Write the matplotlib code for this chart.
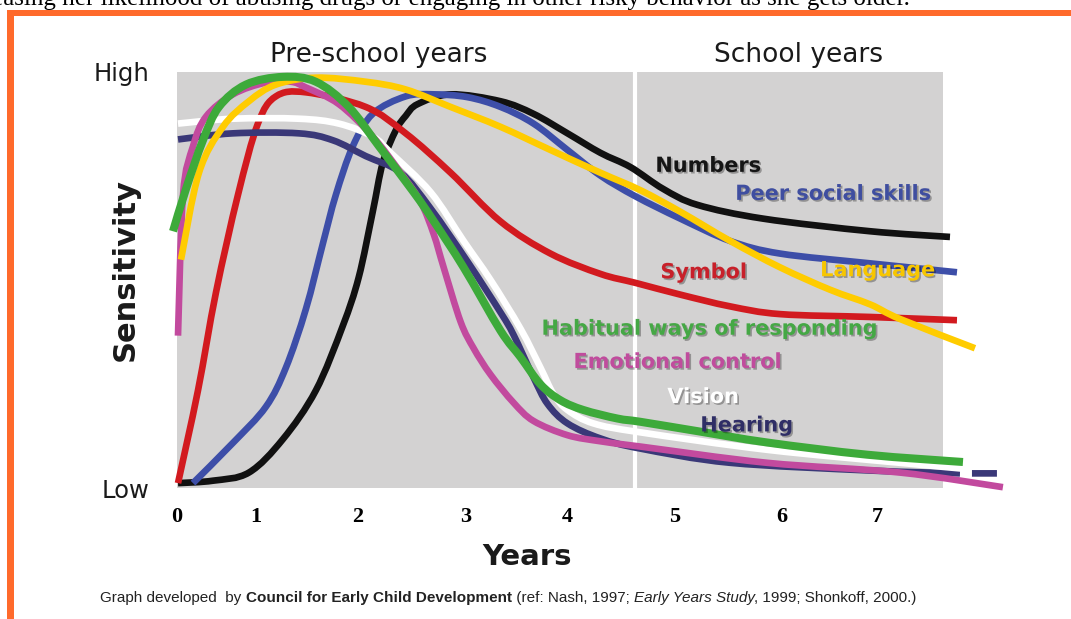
import matplotlib
matplotlib.use("Agg")
import matplotlib.pyplot as plt
import matplotlib.patches as patches
import matplotlib.patheffects as pe
from matplotlib.path import Path

# sensitivity curves: age in years vs sensitivity (0 = low, 100 = high)
numbers_x = [0, 0.35, 0.71, 1.05, 1.38, 1.65, 1.81, 1.95, 2.05, 2.18, 2.28, 2.4, 2.73, 3.23, 3.56, 3.9, 4.23, 4.53, 4.86, 5.2, 5.86, 6.93, 7.73]
numbers_y = [0, 0.6, 2.6, 10.8, 22.8, 38.7, 50.7, 66.8, 78.8, 86.8, 90.4, 93.3, 95.7, 94.0, 90.9, 86.1, 81.3, 77.8, 72.4, 68.5, 65.1, 62.0, 60.6]

peer_x = [0.15, 0.55, 0.88, 1.08, 1.28, 1.45, 1.58, 1.75, 1.95, 2.28, 2.56, 2.9, 3.23, 3.56, 3.9, 4.23, 4.58, 5.03, 5.53, 6.03, 6.93, 7.8]
peer_y = [0, 9.9, 18.8, 28.4, 42.8, 58.9, 70.9, 82.9, 90.9, 95.2, 95.7, 95.0, 92.6, 88.5, 82.0, 75.7, 70.6, 65.1, 59.6, 56.5, 54.1, 51.9]

symbol_x = [0, 0.2, 0.38, 0.6, 0.8, 0.98, 1.28, 1.88, 2.28, 2.73, 3.23, 3.73, 4.23, 4.58, 5.03, 5.53, 6.03, 6.93, 7.8]
symbol_y = [0, 22.8, 46.9, 70.9, 88.5, 95.2, 96.2, 92.6, 86.1, 76.4, 64.4, 56.5, 51.5, 49.3, 46.4, 43.5, 41.6, 40.9, 40.1]

language_x = [0.03, 0.21, 0.45, 0.71, 0.98, 1.38, 1.88, 2.28, 2.73, 3.23, 3.73, 4.23, 4.63, 5.03, 5.53, 6.03, 6.53, 6.93, 7.23, 7.98]
language_y = [55.0, 76.4, 87.7, 94.0, 98.1, 99.8, 98.8, 96.9, 92.6, 87.7, 82.0, 76.4, 72.1, 66.8, 59.6, 53.1, 47.6, 44.0, 40.4, 33.2]

habitual_x = [-0.05, 0.08, 0.25, 0.41, 0.68, 1.05, 1.38, 1.71, 2.01, 2.36, 2.56, 2.86, 3.23, 3.43, 3.63, 3.83, 4.06, 4.4, 4.63, 5.2, 5.9, 6.9, 7.86]
habitual_y = [62.0, 72.4, 84.4, 92.6, 98.1, 100, 98.8, 92.6, 83.0, 71.6, 64.5, 53.1, 37.5, 31.0, 24.3, 20.4, 18.0, 15.9, 15.1, 12.8, 10.0, 7.0, 5.2]

emotional_x = [0, 0.05, 0.15, 0.28, 0.55, 0.88, 1.13, 1.28, 1.61, 1.95, 2.23, 2.43, 2.56, 2.66, 2.83, 2.96, 3.13, 3.36, 3.56, 3.9, 4.23, 4.63, 5.9, 7.23, 8.26]
emotional_y = [36.3, 70.9, 82.9, 90.2, 95.7, 98.6, 98.8, 97.4, 93.3, 85.3, 76.4, 69.2, 61.3, 53.1, 39.7, 33.2, 26.7, 19.8, 15.3, 11.8, 10.3, 9.0, 5.0, 2.6, -1.0]

vision_x = [0, 0.55, 1.21, 1.61, 1.95, 2.13, 2.53, 2.86, 3.13, 3.43, 3.63, 3.76, 3.9, 4.16, 4.63, 5.9, 7.23, 7.93]
vision_y = [88.5, 89.7, 89.7, 88.5, 85.3, 81.3, 71.6, 59.6, 50.0, 38.0, 28.4, 21.9, 18.0, 14.7, 12.5, 8.2, 5.0, 3.4]

hearing_x = [0, 0.55, 1.21, 1.55, 1.88, 2.23, 2.53, 2.9, 3.23, 3.36, 3.56, 3.7, 3.9, 4.23, 4.63, 5.53, 6.93, 7.83]
hearing_y = [84.6, 86.1, 86.1, 84.4, 80.5, 76.4, 67.6, 54.5, 42.0, 36.5, 26.0, 19.5, 14.7, 11.0, 8.5, 5.0, 3.1, 2.4]
hearing_tail_x = [7.95, 8.2]
hearing_tail_y = [2.4, 2.4]

year_labels = ["0", "1", "2", "3", "4", "5", "6", "7"]
level_labels = ["Low", "High"]

# label text and anchor (left, centre) in data units
curve_labels = [
    ("Numbers", 4.78, 78.1, "#151515"),
    ("Peer social skills", 5.58, 71.2, "#3f4ea0"),
    ("Symbol", 4.83, 51.9, "#c8202a"),
    ("Language", 6.43, 52.4, "#f7c600"),
    ("Habitual ways of responding", 3.64, 38.0, "#45a845"),
    ("Emotional control", 3.96, 29.8, "#c04c9d"),
    ("Vision", 4.90, 21.2, "#ffffff"),
    ("Hearing", 5.23, 14.2, "#2f2e66"),
]


def smooth_path(xs, ys):
    # Catmull-Rom through the read points, drawn as cubic Bezier segments
    pts = list(zip(xs, ys))
    verts = [pts[0]]
    codes = [Path.MOVETO]
    n = len(pts)
    for i in range(n - 1):
        p0 = pts[max(i - 1, 0)]
        p1 = pts[i]
        p2 = pts[i + 1]
        p3 = pts[min(i + 2, n - 1)]
        c1 = (p1[0] + (p2[0] - p0[0]) / 6, p1[1] + (p2[1] - p0[1]) / 6)
        c2 = (p2[0] - (p3[0] - p1[0]) / 6, p2[1] - (p3[1] - p1[1]) / 6)
        verts += [c1, c2, p2]
        codes += [Path.CURVE4] * 3
    return Path(verts, codes)


def draw_curve(ax, xs, ys, color, lw, z):
    patch = patches.PathPatch(smooth_path(xs, ys), fill=False, edgecolor=color, lw=lw,
                              capstyle="butt", joinstyle="round", clip_on=False, zorder=z)
    ax.add_patch(patch)


W, H = 1071, 619
fig = plt.figure(figsize=(W / 100, H / 100), dpi=100)
fig.patch.set_facecolor("white")

ax = fig.add_axes([177 / W, (H - 488) / H, 766 / W, 416 / H])
ax.set_facecolor("#d3d2d2")
ax.set_xlim(0, 7.66)
ax.set_ylim(0, 100)
for s in ax.spines.values():
    s.set_visible(False)

# divider between pre-school and school years
ax.axvline(4.58, color="white", lw=3, zorder=1)

lw = 4.8
draw_curve(ax, numbers_x, numbers_y, "#111111", lw, 2)
draw_curve(ax, peer_x, peer_y, "#3d4ea8", lw, 3)
draw_curve(ax, symbol_x, symbol_y, "#d21a1f", lw, 4)
draw_curve(ax, hearing_x, hearing_y, "#3a3878", lw, 5)
draw_curve(ax, hearing_tail_x, hearing_tail_y, "#3a3878", lw, 5)
draw_curve(ax, vision_x, vision_y, "white", lw, 6)
draw_curve(ax, emotional_x, emotional_y, "#c24a9e", lw, 7)
draw_curve(ax, language_x, language_y, "#ffcc00", lw, 8)
draw_curve(ax, habitual_x, habitual_y, "#3daa3a", 5.8, 9)

shadow = [pe.SimplePatchShadow(offset=(1.2, -1.2), shadow_rgbFace="black", alpha=0.3), pe.Normal()]
for txt, x, y, c in curve_labels:
    ax.text(x, y, txt, color=c, fontsize=15, fontweight="bold", family="DejaVu Sans",
            ha="left", va="center", zorder=10, path_effects=shadow)

ax.text(2.01, 105.3, "Pre-school years", fontsize=19, ha="center", va="center", color="#1a1a1a")
ax.text(6.21, 105.3, "School years", fontsize=19, ha="center", va="center", color="#1a1a1a")

ax.set_xticks([-0.01, 0.78, 1.8, 2.88, 3.9, 4.97, 6.05, 7.0], year_labels)
ax.set_yticks([-1.2, 101.2], level_labels)
ax.tick_params(axis="x", length=0, pad=14, labelsize=16)
ax.tick_params(axis="y", length=0, pad=20, labelsize=17.5)
for t in ax.get_xticklabels():
    t.set_family("Liberation Serif")
    t.set_fontweight("bold")
for t in ax.get_yticklabels():
    t.set_color("#1a1a1a")

fig.text(125 / W, 1 - 270 / H, "Sensitivity", rotation=90, fontsize=22, fontweight="bold",
         ha="center", va="center", color="#1a1a1a")
fig.text(527 / W, 1 - 557 / H, "Years", fontsize=21, fontweight="bold",
         ha="center", va="center", color="#1a1a1a")

# cut-off line of text from the page above the chart
fig.text(910 / W, 1 - 5 / H,
         "increasing her likelihood of abusing drugs or engaging in other risky behavior as she gets older.",
         ha="right", va="baseline", fontsize=18, family="Liberation Serif", color="black")

# orange frame
orange = "#ff6a2b"
fig.add_artist(patches.Rectangle((7 / W, 1 - 16 / H), (W - 7) / W, 6.5 / H,
                                 transform=fig.transFigure, color=orange, lw=0))
fig.add_artist(patches.Rectangle((7 / W, 0), 7 / W, 1 - 9.5 / H,
                                 transform=fig.transFigure, color=orange, lw=0))

# source line with mixed styles
parts = [
    ("Graph developed  by ", {}),
    ("Council for Early Child Development", {"fontweight": "bold"}),
    (" (ref: Nash, 1997; ", {}),
    ("Early Years Study", {"style": "italic"}),
    (", 1999; Shonkoff, 2000.)", {}),
]
renderer = fig.canvas.get_renderer()
xpos = 100 / W
for s, kw in parts:
    t = fig.text(xpos, 1 - 602 / H, s, fontsize=11, family="Liberation Sans",
                 ha="left", va="baseline", color="#222222", **kw)
    bb = t.get_window_extent(renderer)
    xpos = bb.x1 / fig.bbox.width

fig.savefig("out.png", dpi=100)
